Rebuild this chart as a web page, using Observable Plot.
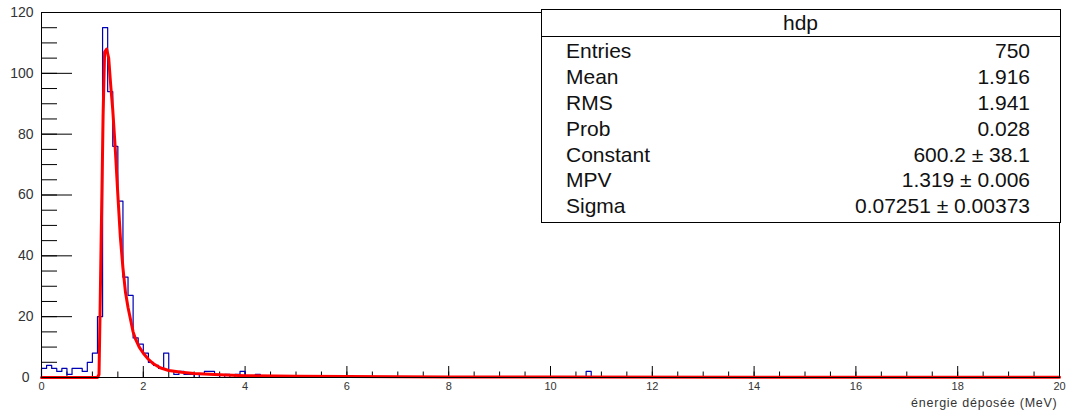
<!DOCTYPE html>
<html><head><meta charset="utf-8">
<script src="https://cdn.jsdelivr.net/npm/d3@7"></script>
<script src="https://cdn.jsdelivr.net/npm/@observablehq/plot@0.6"></script>
<style>
html,body{margin:0;padding:0;background:#fff;}
#wrap{position:relative;width:1067px;height:414px;font-family:"Liberation Sans",Arial,sans-serif;}
#wrap svg{display:block;}
#stats{position:absolute;left:0;top:0;}
</style></head><body><div id="wrap"></div>
<script>
// ---- data ----
const binWidth = 0.1;
const binStarts = [0.0,0.1,0.2,0.3,0.4,0.5,0.6,0.7,0.8,0.9,1.0,1.1,1.2,1.3,1.4,1.5,1.6,1.7,1.8,1.9,2.0,2.1,2.2,2.3,2.4,2.5,2.6,2.7,2.8,2.9,3.1,3.2,3.3,3.4,3.6,3.8,3.9,4.2,10.7];
const binCounts = [3,4,3,2,3,1,3,3,2,5,8,20,115,94,76,58,33,27,13,11,8,5,4,3,8,2,1,2,1,1,1,2,2,1,1,1,2,1,2];
const fitX = [0,1.10,1.13,1.15,1.17,1.19,1.21,1.24,1.28,1.32,1.36,1.40,1.45,1.50,1.55,1.60,1.65,1.70,1.75,1.80,1.85,1.92,2.0,2.1,2.2,2.33,2.5,2.75,3.0,3.5,4.0,5,6,8,10,14,20];
const fitY = [0,0,1,21,43,64,86,107,108,105,96,88,75,60,46,36,28,23,19,15,12.5,10,8,6,4.5,3.2,2.3,1.7,1.3,0.9,0.6,0.4,0.3,0.2,0.15,0.1,0.05];
const xTicks = [0,2,4,6,8,10,12,14,16,18,20];
const yTicks = [20,40,60,80,100,120];
const yZero = [0];
const xMinor = d3.range(0, 20.01, 0.5);
const yMinor = d3.range(0, 120.01, 5);
const xLabel = "énergie déposée (MeV)";
const statTitle = "hdp";
const statLabels = ["Entries","Mean","RMS","Prob","Constant","MPV","Sigma"];
const statValues = ["750","1.916","1.941","0.028","600.2 ± 38.1","1.319 ± 0.006","0.07251 ± 0.00373"];

// ---- build histogram outline ----
const nBins = Math.round(20 / binWidth);
const counts = new Array(nBins).fill(0);
binStarts.forEach((s, i) => { counts[Math.round(s / binWidth)] = binCounts[i]; });
const hist = [{x: 0, y: 0}];
counts.forEach((c, i) => hist.push({x: i * binWidth, y: c}));
hist.push({x: 20, y: counts[nBins - 1]}, {x: 20, y: 0});
const fit = fitX.map((x, i) => ({x, y: fitY[i]}));

const W = 1067, H = 414, mL = 41, mR = 8, mT = 12, mB = 37;
const pw = W - mL - mR, ph = H - mT - mB;

const chart = Plot.plot({
  width: W, height: H,
  marginLeft: mL, marginRight: mR, marginTop: mT, marginBottom: mB,
  x: {domain: [0, 20]},
  y: {domain: [0, 120]},
  style: {fontFamily: '"Liberation Sans", Arial, sans-serif', background: "white", color: "#000"},
  marks: [
    Plot.tickX(xMinor, {x: d => d, insetTop: ph - 5.5, stroke: "#000"}),
    Plot.tickX(xTicks, {x: d => d, insetTop: ph - 11, stroke: "#000"}),
    Plot.tickY(yMinor, {y: d => d, insetRight: pw - 16, stroke: "#000"}),
    Plot.tickY([...yZero, ...yTicks], {y: d => d, insetRight: pw - 31, stroke: "#000"}),
    Plot.line(hist, {x: "x", y: "y", curve: "step-after", stroke: "#0000b4", strokeWidth: 1.2}),
    Plot.line(fit, {x: "x", y: "y", stroke: "#ff0000", strokeWidth: 3}),
    Plot.frame({stroke: "#000"}),
    Plot.axisX({ticks: xTicks, tickSize: 0, tickPadding: 5, fontSize: 11, label: null, fill: "#333"}),
    Plot.axisY({ticks: yTicks, tickSize: 0, tickPadding: 8, fontSize: 14, label: null, fill: "#333"}),
    Plot.axisY({ticks: yZero, tickSize: 0, tickPadding: 12, fontSize: 14, label: null, fill: "#333"}),
    Plot.text([xLabel], {frameAnchor: "bottom-right", textAnchor: "end", dy: 29, dx: -2, fontSize: 12.5, fill: "#333", style: {letterSpacing: "0.7px"}})
  ]
});
const wrap = document.getElementById("wrap");
wrap.appendChild(chart);
// letter spacing for the x title
d3.select(chart).selectAll("text").filter(function(){ return this.textContent === xLabel; }).style("letter-spacing", "0.75px");

// ---- statistics box ----
const bx0 = 541, by0 = 9, bx1 = 1060, by1 = 222;
const svg = d3.select(wrap).append("svg").attr("id", "stats")
  .attr("width", W).attr("height", H).style("pointer-events", "none");
svg.append("rect").attr("x", bx0 + 0.5).attr("y", by0 + 0.5)
  .attr("width", bx1 - bx0).attr("height", by1 - by0)
  .attr("fill", "#fff").attr("stroke", "#000");
svg.append("line").attr("x1", bx0).attr("x2", bx1).attr("y1", 36.5).attr("y2", 36.5).attr("stroke", "#000");
const g = svg.append("g").style("font-family", '"Liberation Sans", Arial, sans-serif').style("font-size", "21px").attr("fill", "#111");
g.append("text").attr("x", (bx0 + bx1) / 2).attr("y", 30).attr("text-anchor", "middle").text(statTitle);
statLabels.forEach((l, i) => {
  const y = 58.3 + 25.8 * i;
  g.append("text").attr("x", 566).attr("y", y).text(l);
  g.append("text").attr("x", 1030).attr("y", y).attr("text-anchor", "end").text(statValues[i]);
});
</script>
</body></html>
